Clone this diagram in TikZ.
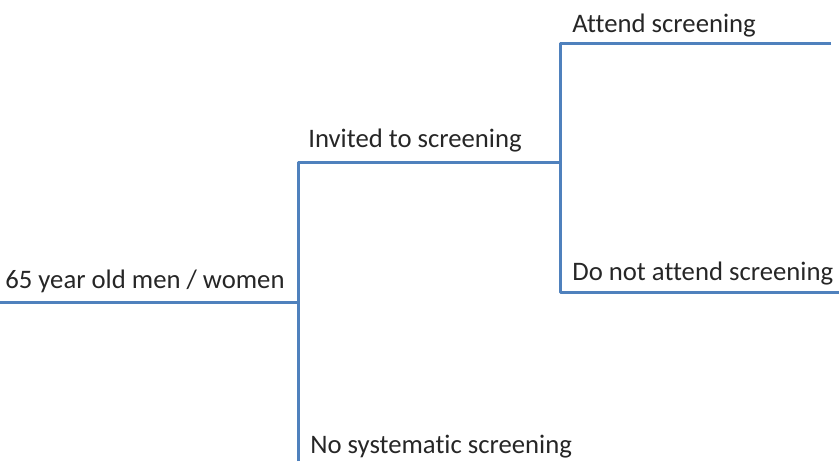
\documentclass[tikz,border=0pt]{standalone}
\usepackage{fontspec}
\setmainfont[Ligatures=NoCommon]{Carlito}
\usepackage{xcolor}
\usetikzlibrary{positioning}
\definecolor{branchblue}{RGB}{79,129,189}

\begin{document}
\begin{tikzpicture}[
    x=0.02cm, y=-0.02cm,
    label/.style={anchor=base west, inner sep=0pt, font=\fontsize{15.2}{18}\selectfont, text=black!85},
    branch/.style={draw=branchblue, line width=0.06cm, line join=round}
]
    \useasboundingbox (0,0) rectangle (839,461);

    % Branch points
    \coordinate (start) at (0,302);
    \coordinate (split) at (298,302);
    \coordinate (bottom) at (298,461);
    \coordinate (invsplit) at (560,162);
    \coordinate (attendend) at (831,43);
    \coordinate (noattendend) at (839,292);

    % Labels
    \node[label] (population) at (5,288) {65 year old men / women};
    \node[label] (invited) at (308,147) {Invited to screening};
    \node[label] (attend) at (572,32) {Attend screening};
    \node[label] (noattend) at (572,280) {Do not attend screening};
    \node[label] (nosystematic) at (310,453) {No systematic screening};

    % Tree
    \draw[branch] (start) -- (split);
    \draw[branch] (bottom) |- (invsplit);
    \draw[branch] (attendend) -| (invsplit);
    \draw[branch] (invsplit) |- (noattendend);

\end{tikzpicture}
\end{document}
